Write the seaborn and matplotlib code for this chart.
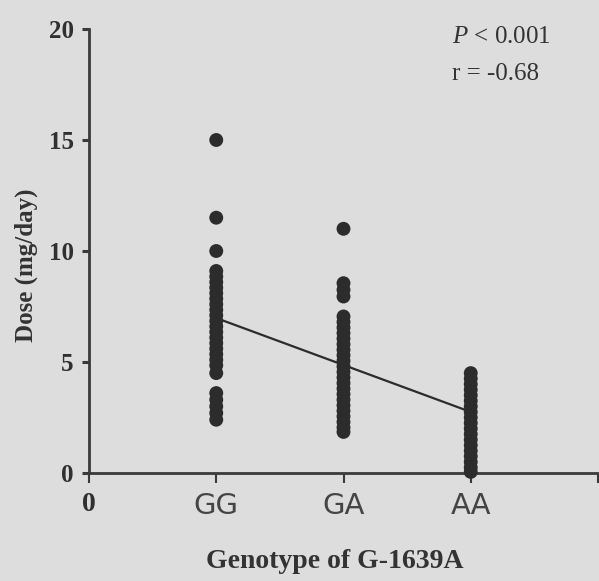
import matplotlib
matplotlib.use("Agg")
import matplotlib.pyplot as plt
import seaborn as sns
import pandas as pd
import numpy as np

# ---- data ----
genotypes = ["GG", "GA", "AA"]
dose_gg = [15.0, 11.5, 10.0, 9.1, 8.85, 8.6, 8.35, 8.1, 7.85, 7.6, 7.35, 7.1,
           6.85, 6.6, 6.35, 6.1, 5.85, 5.6, 5.35, 5.1, 4.85, 4.5,
           3.6, 3.3, 3.0, 2.7, 2.4]
dose_ga = [11.0, 8.55, 8.25, 7.95, 7.05, 6.8, 6.55, 6.3, 6.05, 5.8, 5.55, 5.3,
           5.05, 4.8, 4.55, 4.3, 4.05, 3.8, 3.55, 3.3, 3.05, 2.8, 2.55, 2.3,
           2.05, 1.85]
dose_aa = [4.5, 4.25, 4.0, 3.75, 3.5, 3.25, 3.0, 2.75, 2.5, 2.25, 2.0, 1.75,
           1.5, 1.25, 1.0, 0.75, 0.5, 0.25, 0.05]
fit_genotype = ["GG", "AA"]
fit_dose = [6.98, 2.75]
y_ticks = [0, 5, 10, 15, 20]
x_tick_labels = ["0", "GG", "GA", "AA", ""]
annot_p = "$\\mathit{P}$ < 0.001"
annot_r = "r = -0.68"
x_label = "Genotype of G-1639A"
y_label = "Dose (mg/day)"

code = {g: i + 1 for i, g in enumerate(genotypes)}
df = pd.DataFrame({
    "genotype": ["GG"] * len(dose_gg) + ["GA"] * len(dose_ga) + ["AA"] * len(dose_aa),
    "dose": dose_gg + dose_ga + dose_aa,
})
df["x"] = df["genotype"].map(code)
fit = pd.DataFrame({"x": [code[g] for g in fit_genotype], "dose": fit_dose})

sns.set_style("ticks")
plt.rcParams["font.family"] = ["Liberation Serif", "DejaVu Serif"]
plt.rcParams["mathtext.fontset"] = "custom"
plt.rcParams["mathtext.it"] = "Liberation Serif:italic"
plt.rcParams["mathtext.rm"] = "Liberation Serif"

bg = "#dddddd"
ink = "#2c2c2c"
fig = plt.figure(figsize=(5.99, 5.81), dpi=100, facecolor=bg)
ax = fig.add_axes([89 / 599, 1 - 473 / 581, 509 / 599, 444 / 581])
ax.set_facecolor(bg)

sns.lineplot(data=fit, x="x", y="dose", ax=ax, color=ink, linewidth=1.6,
             zorder=2)
sns.scatterplot(data=df, x="x", y="dose", ax=ax, color=ink, s=100,
                edgecolor="none", zorder=3, clip_on=False)

ax.set_xlim(0, 4)
ax.set_ylim(0, 20)
ax.set_xticks([0, 1, 2, 3, 4])
ax.set_xticklabels(x_tick_labels)
ax.set_yticks(y_ticks)
ax.set_yticklabels([str(v) for v in y_ticks])

for side in ["top", "right"]:
    ax.spines[side].set_visible(False)
for side in ["left", "bottom"]:
    ax.spines[side].set_linewidth(2.0)
    ax.spines[side].set_color("#3a3a3a")

ax.tick_params(axis="y", left=True, direction="out", length=5, width=2.2,
               color="#3a3a3a", pad=6, labelsize=18, labelcolor="#303030")
ax.tick_params(axis="x", bottom=True, direction="out", length=7, width=1.5,
               color="#3a3a3a", pad=7, labelsize=21, labelcolor="#444444")
for lab in ax.get_yticklabels():
    lab.set_fontweight("bold")
for i, lab in enumerate(ax.get_xticklabels()):
    if i == 0:
        lab.set_fontfamily(["Liberation Serif"])
        lab.set_fontweight("bold")
        lab.set_fontsize(20)
        lab.set_color("#303030")
    else:
        lab.set_fontfamily(["DejaVu Sans"])

ax.set_xlabel(x_label, fontsize=20, fontweight="bold", color="#333333")
ax.set_ylabel(y_label, fontsize=18, fontweight="bold", color="#333333")
ax.xaxis.set_label_coords(0.482, -0.172)
ax.yaxis.set_label_coords(-0.100, 0.468)

ax.text(452 / 599, 1 - 37 / 581, annot_p, transform=fig.transFigure,
        fontsize=18, color="#333333", va="center", ha="left")
ax.text(452 / 599, 1 - 74 / 581, annot_r, transform=fig.transFigure,
        fontsize=18, color="#333333", va="center", ha="left")

fig.savefig("out.png", dpi=100, facecolor=bg)
